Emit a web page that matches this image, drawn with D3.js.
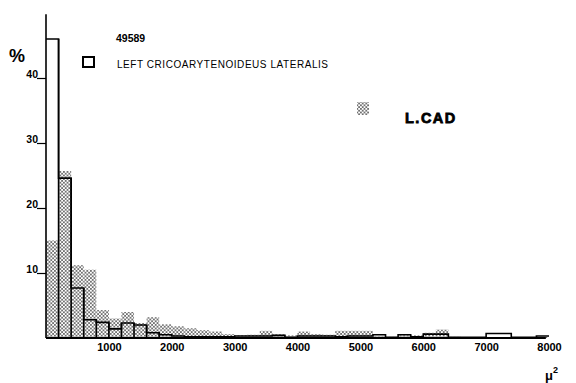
<!DOCTYPE html>
<html><head><meta charset="utf-8">
<script src="https://cdn.jsdelivr.net/npm/d3@7"></script>
<style>body{margin:0;background:#fff}svg{display:block}text{font-family:"Liberation Sans",Arial,sans-serif}</style>
</head><body><svg id="c" width="576" height="383"></svg>
<script>
// bins of 200 µ² starting at 0
const binWidth = 200;
const openSeries = [46,24.6,7.7,2.8,2.4,1.4,2.3,2.0,0.8,0.5,
  0.3,0.2,0.2,0.2,0.2,0.3,0.3,0.3,0.4,0.1,
  0.3,0.3,0.3,0.2,0.3,0.3,0.5,0.1,0.5,0.2,
  0.6,0.6,0.1,0.1,0.1,0.7,0.7,0.1,0.1,0.3];
const stippleSeries = [15,25.7,11.2,10.5,4.3,3.0,4.0,2.3,3.2,2.1,
  1.8,1.5,1.2,1.0,0.6,0.4,0.5,1.1,0.6,0.4,
  1.0,0.6,0.5,1.1,1.1,1.1,0.3,0.2,0.4,0.4,
  0.8,1.3,0.2,0.1,0.1,0.1,0.1,0.1,0.1,0.2];
const xTicks = [1000,2000,3000,4000,5000,6000,7000,8000];
const yTicks = [10,20,30,40];
const sampleId = "49589";
const legendOpen = "LEFT CRICOARYTENOIDEUS  LATERALIS";
const legendStipple = "L.CAD";

const svg = d3.select("#c");
const x = d3.scaleLinear().domain([0,8000]).range([46,549]);
const y = d3.scaleLinear().domain([0,50]).range([338,13]);

const defs = svg.append("defs");
const pat = defs.append("pattern").attr("id","stip").attr("patternUnits","userSpaceOnUse")
  .attr("width",3.6).attr("height",3.6);
pat.append("rect").attr("width",3.6).attr("height",3.6).attr("fill","#fff");
pat.append("circle").attr("cx",0.9).attr("cy",0.9).attr("r",0.85).attr("fill","#333");
pat.append("circle").attr("cx",2.7).attr("cy",2.7).attr("r",0.85).attr("fill","#333");

// stippled bars
svg.append("g").selectAll("rect").data(stippleSeries).join("rect")
  .attr("x",(d,i)=>x(i*binWidth)).attr("width",(d,i)=>x((i+1)*binWidth)-x(i*binWidth))
  .attr("y",d=>y(d)).attr("height",d=>y(0)-y(d)).attr("fill","url(#stip)");

// open bars (outline as step path)
const pts = [];
openSeries.forEach((d,i)=>{
  pts.push([x(i*binWidth), y(d)]);
  pts.push([x((i+1)*binWidth), y(d)]);
});
svg.append("path").attr("d", d3.line()(pts)).attr("fill","none").attr("stroke","#000").attr("stroke-width",1.6);
svg.append("g").selectAll("line").data(openSeries).join("line")
  .attr("x1",(d,i)=>x((i+1)*binWidth)).attr("x2",(d,i)=>x((i+1)*binWidth))
  .attr("y1",(d,i)=>y(Math.max(d, openSeries[i+1]||0))).attr("y2",y(0))
  .attr("stroke","#000").attr("stroke-width",(d,i)=>i<9?1.6:0);

// axes
const yAxis = d3.axisLeft(y).tickValues(yTicks).tickSize(9).tickPadding(0).tickFormat(d3.format("d"));
const gy = svg.append("g").attr("transform",`translate(${x(0)},0)`).call(yAxis);
gy.select(".domain").remove();
gy.selectAll(".tick line").attr("stroke","#000").attr("stroke-width",1.2);
gy.selectAll(".tick text").attr("x",-8).attr("dy","-0.5").attr("font-size",10.5).attr("font-weight","bold").attr("fill","#000");
svg.append("line").attr("x1",x(0)).attr("x2",x(0)).attr("y1",y(49.8)).attr("y2",y(0)).attr("stroke","#000").attr("stroke-width",1.6);

const xAxis = d3.axisBottom(x).tickValues(xTicks).tickSize(0).tickPadding(5).tickFormat(d3.format("d"));
const gx = svg.append("g").attr("transform",`translate(0,${y(0)})`).call(xAxis);
gx.select(".domain").remove();
gx.selectAll(".tick text").attr("font-size",11).attr("font-weight","bold").attr("fill","#000");
svg.append("line").attr("x1",x(0)).attr("x2",x(7950)).attr("y1",y(0)).attr("y2",y(0)).attr("stroke","#000").attr("stroke-width",1.8);

// axis labels
svg.append("text").attr("x",9).attr("y",62).attr("font-size",18).attr("font-weight","bold").text("%");
const ul = svg.append("text").attr("x",545).attr("y",380).attr("font-size",13).attr("font-weight","bold");
ul.append("tspan").text("μ");
ul.append("tspan").attr("dy",-7).attr("font-size",9).text("2");

// legend
svg.append("text").attr("x",116).attr("y",42).attr("font-size",10.5).attr("font-weight","bold").text(sampleId);
svg.append("rect").attr("x",83).attr("y",57).attr("width",11).attr("height",10).attr("fill","none").attr("stroke","#000").attr("stroke-width",2);
svg.append("text").attr("x",117).attr("y",68).attr("font-size",10).attr("letter-spacing",0.55).text(legendOpen);
svg.append("rect").attr("x",357).attr("y",102).attr("width",12).attr("height",13).attr("fill","url(#stip)");
svg.append("text").attr("x",405).attr("y",123).attr("font-size",14.5).attr("font-weight","900")
  .attr("stroke","#000").attr("stroke-width",0.8).attr("letter-spacing",1.5).text(legendStipple);
</script></body></html>
